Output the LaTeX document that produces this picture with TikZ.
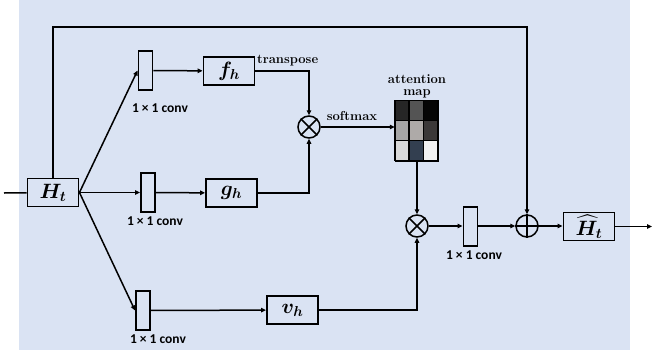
\documentclass[tikz,border=0pt]{standalone}
\usepackage{amsmath,bm}
\usepackage{fontspec}
\usepackage{xcolor}
\usepackage{tikz}
\usetikzlibrary{arrows.meta,positioning,calc}
\newfontfamily\cvfont{Carlito}
\definecolor{bgblue}{HTML}{DAE3F3}
\definecolor{mA}{HTML}{262626}
\definecolor{mB}{HTML}{545454}
\definecolor{mC}{HTML}{050505}
\definecolor{mD}{HTML}{A6A6A6}
\definecolor{mE}{HTML}{AEAAA8}
\definecolor{mF}{HTML}{3B3838}
\definecolor{mG}{HTML}{D9D9D9}
\definecolor{mH}{HTML}{333F50}
\definecolor{mI}{HTML}{F2F2F2}
\tikzset{
  blk/.style   = {draw, line width=1.9pt, minimum width=51pt, minimum height=28pt,
                  inner sep=0pt, font=\huge},
  conv/.style  = {draw, line width=1.9pt, minimum width=14pt, minimum height=39pt,
                  inner sep=0pt},
  opc/.style   = {draw, circle, line width=1.5pt, minimum size=22pt, inner sep=0pt},
  ar/.style    = {-{Triangle[length=5pt,width=4.5pt]}, line width=1.5pt},
  ln/.style    = {line width=1.5pt},
  lbl/.style   = {font=\fontsize{13}{13}\selectfont\bfseries, inner sep=1pt, align=center},
  cvlbl/.style = {font=\fontsize{13.5}{14}\selectfont\cvfont\bfseries, inner sep=1pt}
}
\begin{document}
\begin{tikzpicture}[x=1pt, y=-1pt]
\useasboundingbox (0,0) rectangle (652,356);
\fill[bgblue] (19,0) rectangle (630,350);

% main path
\coordinate (in) at (4,193);
\node[blk] (Ht) at (53,192.5) {$\bm{H_t}$};
\draw[ln] (in) -- (Ht);

% three 1x1 conv branches
\node[conv] (cf) at (145.5,70.5) {};
\node[conv] (cg) at (148,192.5) {};
\node[conv] (cv) at (143,310.5) {};
\node[cvlbl] at (160,108) {1 × 1 conv};
\node[cvlbl] at (155,221) {1 × 1 conv};
\node[cvlbl] at (158,339) {1 × 1 conv};
\draw[ar] (Ht.east) -- (cf.west);
\draw[ar] (Ht.east) -- (cg.west);
\draw[ar] (Ht.east) -- (cv.west);

\node[blk] (fh) at (229,71) {$\bm{f_h}$};
\node[blk] (gh) at (231.5,193) {$\bm{g_h}$};
\node[blk] (vh) at (292.5,310) {$\bm{v_h}$};
\draw[ar] (cf) -- (fh);
\draw[ar] (cg) -- (gh);
\draw[ar] (cv) -- (vh);

% attention
\node[opc] (mul1) at (309,127) {};
\draw[ln] (mul1.north west) -- (mul1.south east) (mul1.north east) -- (mul1.south west);
\draw[ar] (fh.east) -| (mul1.north);
\draw[ar] (gh.east) -| (mul1.south);
\node[lbl, anchor=west] (trans) at (256,61) {transpose};

\node[draw, line width=1.4pt, minimum width=43pt, minimum height=60pt, inner sep=0pt]
  (map) at (417,131) {};
\foreach \cc/\rr/\shade in {0/0/mA, 1/0/mB, 2/0/mC, 0/1/mD, 1/1/mE, 2/1/mF,
                            0/2/mG, 1/2/mH, 2/2/mI}
  \filldraw[fill=\shade, draw=black, line width=1.4pt]
    ($(map.north west)+(\cc*14.33,\rr*20)$) rectangle +(14.33,20);
\node[lbl, above=1pt of map] (maplbl) {attention\\[-1pt]map};
\draw[ar] (mul1.east) -- (map.west |- mul1.east);
\node[lbl] (soft) at (352,116) {softmax};

\node[opc] (mul2) at (417,226) {};
\draw[ln] (mul2.north west) -- (mul2.south east) (mul2.north east) -- (mul2.south west);
\draw[ar] (map.south) -- (mul2.north);
\draw[ar] (vh.east) -| (mul2.south);

% output
\node[conv] (co) at (470.5,226.5) {};
\node[cvlbl] at (474,255) {1 × 1 conv};
\node[opc] (add) at (527,226) {};
\draw[ln] (add.north) -- (add.south) (add.west) -- (add.east);
\node[blk] (Hout) at (589,226.5) {$\widehat{\bm{H}}_{\bm{t}}$};
\coordinate (out) at (652,226.5);
\draw[ar] (mul2.east) -- (co.west |- mul2.east);
\draw[ar] (co.east |- add.west) -- (add.west);
\draw[ar] (add.east) -- (Hout.west |- add.east);
\draw[ar] (Hout.east) -- (out);

% skip connection
\coordinate (tl) at (53,27);
\draw[ar] (Ht.north) -- (tl) -| (add.north);
\end{tikzpicture}
\end{document}
